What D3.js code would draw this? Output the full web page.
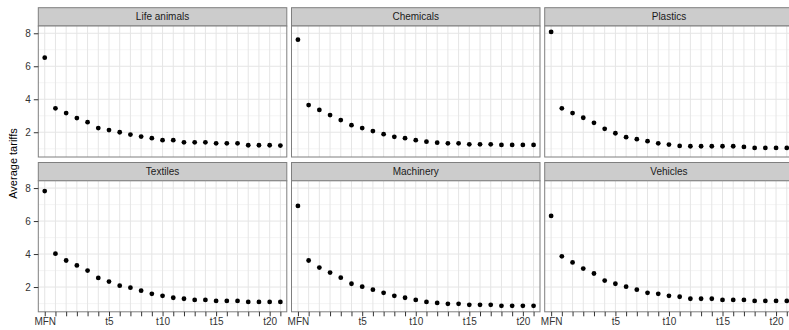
<!DOCTYPE html>
<html>
<head>
<meta charset="utf-8">
<script src="https://cdn.jsdelivr.net/npm/d3@7"></script>
<style>
  body { margin: 0; overflow: hidden; background: #fff; }
  text { font-family: "Liberation Sans", Arial, Helvetica, sans-serif; }
</style>
</head>
<body>
<svg id="svg1"></svg>
<script>
// periods on the x axis (MFN baseline then t0..t21)
var periods = ["MFN", "t0", "t1", "t2", "t3", "t4", "t5", "t6", "t7", "t8", "t9", "t10",
  "t11", "t12", "t13", "t14", "t15", "t16", "t17", "t18", "t19", "t20", "t21"];
var labelled = ["MFN", "t5", "t10", "t15", "t20"];
var yTicks = [2, 4, 6, 8];
var yMinor = [1, 3, 5, 7];

var sectors = ["Life animals", "Chemicals", "Plastics", "Textiles", "Machinery", "Vehicles"];

var lifeAnimals = [6.52, 3.45, 3.16, 2.86, 2.61, 2.25, 2.13, 2.00, 1.86, 1.74, 1.64, 1.52,
  1.52, 1.39, 1.39, 1.39, 1.33, 1.33, 1.33, 1.21, 1.21, 1.21, 1.19];
var chemicals = [7.61, 3.65, 3.35, 3.04, 2.74, 2.43, 2.25, 2.07, 1.88, 1.72, 1.64, 1.52,
  1.43, 1.37, 1.33, 1.33, 1.27, 1.27, 1.27, 1.23, 1.23, 1.23, 1.23];
var plastics = [8.08, 3.45, 3.16, 2.88, 2.57, 2.21, 1.94, 1.70, 1.58, 1.46, 1.33, 1.25,
  1.17, 1.15, 1.15, 1.15, 1.15, 1.15, 1.11, 1.05, 1.05, 1.05, 1.05];
var textiles = [7.82, 4.02, 3.61, 3.31, 3.00, 2.55, 2.33, 2.08, 1.96, 1.78, 1.59, 1.47,
  1.35, 1.29, 1.22, 1.22, 1.16, 1.16, 1.16, 1.10, 1.10, 1.10, 1.10];
var machinery = [6.92, 3.61, 3.18, 2.88, 2.57, 2.20, 2.02, 1.84, 1.65, 1.47, 1.35, 1.22,
  1.10, 1.04, 0.98, 0.98, 0.92, 0.92, 0.92, 0.86, 0.86, 0.86, 0.86];
var vehicles = [6.31, 3.86, 3.49, 3.12, 2.82, 2.39, 2.20, 2.02, 1.84, 1.65, 1.59, 1.47,
  1.41, 1.29, 1.29, 1.29, 1.22, 1.22, 1.22, 1.16, 1.16, 1.16, 1.16];

var seriesValues = [lifeAnimals, chemicals, plastics, textiles, machinery, vehicles];

function chart() {
  var totalW = 789, totalH = 330;
  var marginLeft = 38.3, marginTop = 7.7;
  var panelW = 248.5, panelH = 131, stripH = 18.3;
  var gapX = 4.7, gapY = 5.5;

  var svg = d3.select('#svg1')
    .attr('width', totalW)
    .attr('height', totalH);

  var x = d3.scalePoint()
    .domain(periods)
    .range([0, panelW])
    .padding(0.6);

  // shared y scale with ggplot-like 5% expansion
  var all = d3.merge(seriesValues);
  var ext = d3.extent(all);
  var pad = (ext[1] - ext[0]) * 0.05;
  var y = d3.scaleLinear()
    .domain([ext[0] - pad, ext[1] + pad])
    .range([panelH, 0]);

  sectors.forEach(function(name, i) {
    var col = i % 3, row = Math.floor(i / 3);
    var px = marginLeft + col * (panelW + gapX);
    var py = marginTop + row * (stripH + panelH + gapY);

    var g = svg.append('g')
      .attr('transform', 'translate(' + px + ',' + py + ')');

    // strip
    g.append('rect')
      .attr('x', 0).attr('y', 0)
      .attr('width', panelW).attr('height', stripH)
      .attr('fill', '#cccccc')
      .attr('stroke', '#7f7f7f')
      .attr('stroke-width', 1);
    g.append('text')
      .attr('x', panelW / 2)
      .attr('y', stripH / 2)
      .attr('dy', '0.36em')
      .attr('text-anchor', 'middle')
      .attr('font-size', '10px')
      .attr('fill', '#1a1a1a')
      .text(name);

    var p = g.append('g')
      .attr('transform', 'translate(0,' + stripH + ')');

    p.append('rect')
      .attr('width', panelW).attr('height', panelH)
      .attr('fill', '#fff');

    // grid
    p.selectAll('.minor')
      .data(yMinor)
      .enter()
      .append('line')
      .attr('class', 'minor')
      .attr('x1', 0).attr('x2', panelW)
      .attr('y1', function(d) { return y(d); })
      .attr('y2', function(d) { return y(d); })
      .attr('stroke', '#f2f2f2')
      .attr('stroke-width', 0.8);
    p.selectAll('.major')
      .data(yTicks)
      .enter()
      .append('line')
      .attr('class', 'major')
      .attr('x1', 0).attr('x2', panelW)
      .attr('y1', function(d) { return y(d); })
      .attr('y2', function(d) { return y(d); })
      .attr('stroke', '#e5e5e5')
      .attr('stroke-width', 1);
    p.selectAll('.vgrid')
      .data(periods)
      .enter()
      .append('line')
      .attr('class', 'vgrid')
      .attr('x1', function(d) { return x(d); })
      .attr('x2', function(d) { return x(d); })
      .attr('y1', 0).attr('y2', panelH)
      .attr('stroke', '#e5e5e5')
      .attr('stroke-width', 1);

    // points
    p.selectAll('circle')
      .data(seriesValues[i])
      .enter()
      .append('circle')
      .attr('cx', function(d, j) { return x(periods[j]); })
      .attr('cy', function(d) { return y(d); })
      .attr('r', 2.4)
      .attr('fill', '#000');

    p.append('rect')
      .attr('width', panelW).attr('height', panelH)
      .attr('fill', 'none')
      .attr('stroke', '#7f7f7f')
      .attr('stroke-width', 1);

    if (col == 0) {
      var ay = p.append('g')
        .call(d3.axisLeft(y).tickValues(yTicks).tickSize(4.5).tickPadding(3));
      ay.select('.domain').remove();
      ay.selectAll('line').attr('stroke', '#333');
      ay.selectAll('text').attr('fill', '#333').attr('font-size', '10px')
        .attr('font-family', '"Liberation Sans", Arial, sans-serif');
    }
    if (row == 1) {
      var ax = p.append('g')
        .attr('transform', 'translate(0,' + panelH + ')')
        .call(d3.axisBottom(x)
          .tickSize(4.5)
          .tickPadding(2)
          .tickFormat(function(d) { return labelled.indexOf(d) >= 0 ? d : ''; }));
      ax.select('.domain').remove();
      ax.selectAll('line').attr('stroke', '#333');
      ax.selectAll('text').attr('fill', '#333').attr('font-size', '10px')
        .attr('font-family', '"Liberation Sans", Arial, sans-serif');
    }
  });

  svg.append('text')
    .attr('transform', 'translate(17,163.5) rotate(-90)')
    .attr('text-anchor', 'middle')
    .attr('font-size', '11px')
    .attr('fill', '#000')
    .text('Average tariffs');
}

chart();
</script>
</body>
</html>
